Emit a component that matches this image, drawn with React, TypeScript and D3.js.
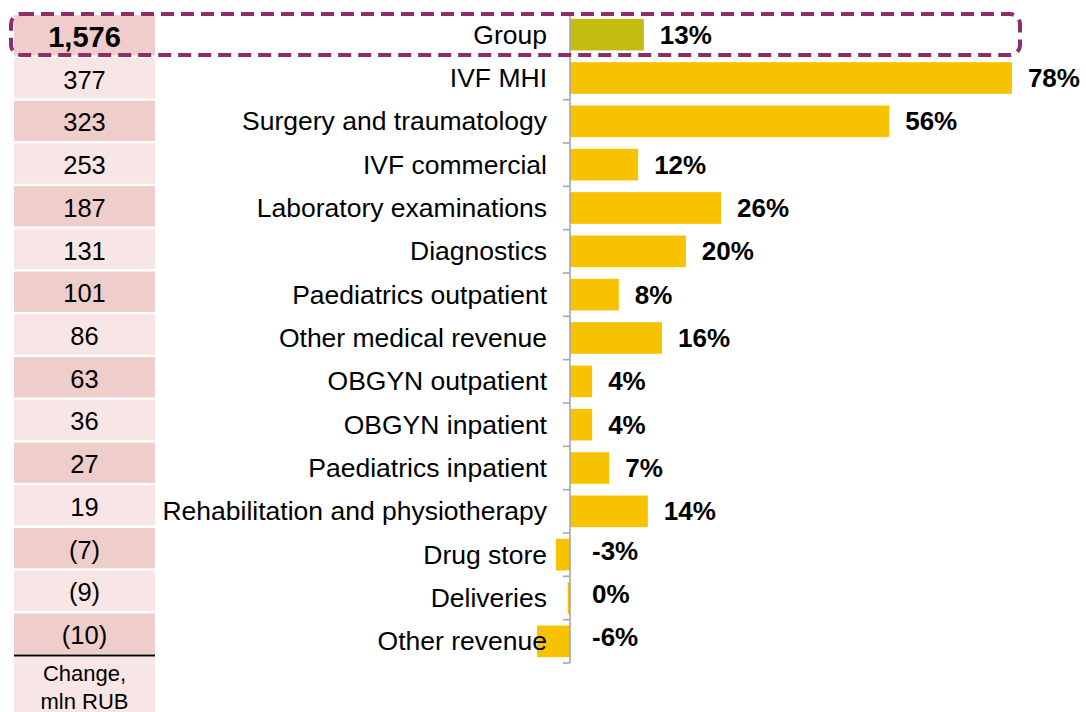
import React from "react";
import * as d3 from "d3";

const categories = [
  "Group",
  "IVF MHI",
  "Surgery and traumatology",
  "IVF commercial",
  "Laboratory examinations",
  "Diagnostics",
  "Paediatrics outpatient",
  "Other medical revenue",
  "OBGYN outpatient",
  "OBGYN inpatient",
  "Paediatrics inpatient",
  "Rehabilitation and physiotherapy",
  "Drug store",
  "Deliveries",
  "Other revenue",
];
const growth = [13.0, 77.8, 56.2, 12.0, 26.6, 20.4, 8.6, 16.2, 3.9, 3.9, 6.9, 13.7, -2.5, -0.4, -5.8];
const growthLabels = ["13%", "78%", "56%", "12%", "26%", "20%", "8%", "16%", "4%", "4%", "7%", "14%", "-3%", "0%", "-6%"];
const changes = [1576, 377, 323, 253, 187, 131, 101, 86, 63, 36, 27, 19, -7, -9, -10];
const tableFooter = ["Change,", "mln RUB"];

const W = 1086;
const H = 712;
const FONT = "'Liberation Sans', Arial, sans-serif";

export default function App() {
  const y = d3.scaleBand<string>().domain(categories).range([13, 663]).paddingInner(0.27).paddingOuter(0.135);
  const yStep = d3.scaleBand<string>().domain(categories).range([13, 663]);
  const yt = d3.scaleBand<string>().domain(categories).range([14, 655]);
  const x = d3.scaleLinear().domain([0, 100]).range([570, 1138]);
  const fmt = d3.format(",");
  const fmtChange = (v: number) => (v < 0 ? `(${fmt(-v)})` : fmt(v));
  const tickYs = [...categories.map((c) => yStep(c)!), 663];

  return (
    <svg width={W} height={H} style={{ position: "absolute", left: 0, top: 0, background: "#fff" }} fontFamily={FONT}>
      {/* left table */}
      {categories.map((c, i) => (
        <g key={"t" + c}>
          <rect
            x={14}
            y={yt(c)! + 1.2}
            width={141}
            height={yt.step() - 2.4}
            fill={i % 2 === 0 ? "#efcdca" : "#f7e6e5"}
          />
          <text
            x={84.5}
            y={yt(c)! + yt.step() / 2 + 1.5}
            textAnchor="middle"
            dominantBaseline="central"
            fontSize={i === 0 ? 29 : 25.5}
            fontWeight={i === 0 ? "bold" : "normal"}
            fill="#000"
          >
            {fmtChange(changes[i])}
          </text>
        </g>
      ))}
      <rect x={14} y={657} width={141} height={60} fill="#f7e6e5" />
      <line x1={14} x2={155} y1={655.5} y2={655.5} stroke="#000" strokeWidth={2.2} />
      {tableFooter.map((t, i) => (
        <text key={t} x={84.5} y={673 + i * 28.5} textAnchor="middle" dominantBaseline="central" fontSize={22}>
          {t}
        </text>
      ))}

      {/* bars */}
      {categories.map((c, i) => (
        <rect
          key={"b" + c}
          x={Math.min(x(0), x(growth[i]))}
          y={y(c)!}
          width={Math.abs(x(growth[i]) - x(0))}
          height={y.bandwidth()}
          fill={i === 0 ? "#c2bd0f" : "#f7c300"}
        />
      ))}

      {/* axis */}
      <line x1={570} x2={570} y1={13} y2={663} stroke="#a6a6a6" strokeWidth={1.6} />
      {tickYs.map((t, i) => (
        <line key={"k" + i} x1={563} x2={570} y1={t} y2={t} stroke="#a6a6a6" strokeWidth={1.6} />
      ))}

      {/* category labels */}
      {categories.map((c) => (
        <text
          key={"c" + c}
          x={547}
          y={yStep(c)! + yStep.step() / 2}
          textAnchor="end"
          dominantBaseline="central"
          fontSize={26.5}
          fill="#000"
        >
          {c}
        </text>
      ))}

      {/* value labels */}
      {categories.map((c, i) => (
        <text
          key={"v" + c}
          x={growth[i] > 0 ? x(growth[i]) + 16 : x(0) + 22}
          y={yStep(c)! + yStep.step() / 2 + (growth[i] > 0 ? 0 : -4)}
          textAnchor="start"
          dominantBaseline="central"
          fontSize={26}
          fontWeight="bold"
          fill="#000"
        >
          {growthLabels[i]}
        </text>
      ))}

      {/* highlight box */}
      <rect
        x={11}
        y={14}
        width={1009}
        height={41}
        rx={10}
        fill="none"
        stroke="#8f2d6b"
        strokeWidth={4}
        strokeDasharray="13 7"
      />
    </svg>
  );
}
